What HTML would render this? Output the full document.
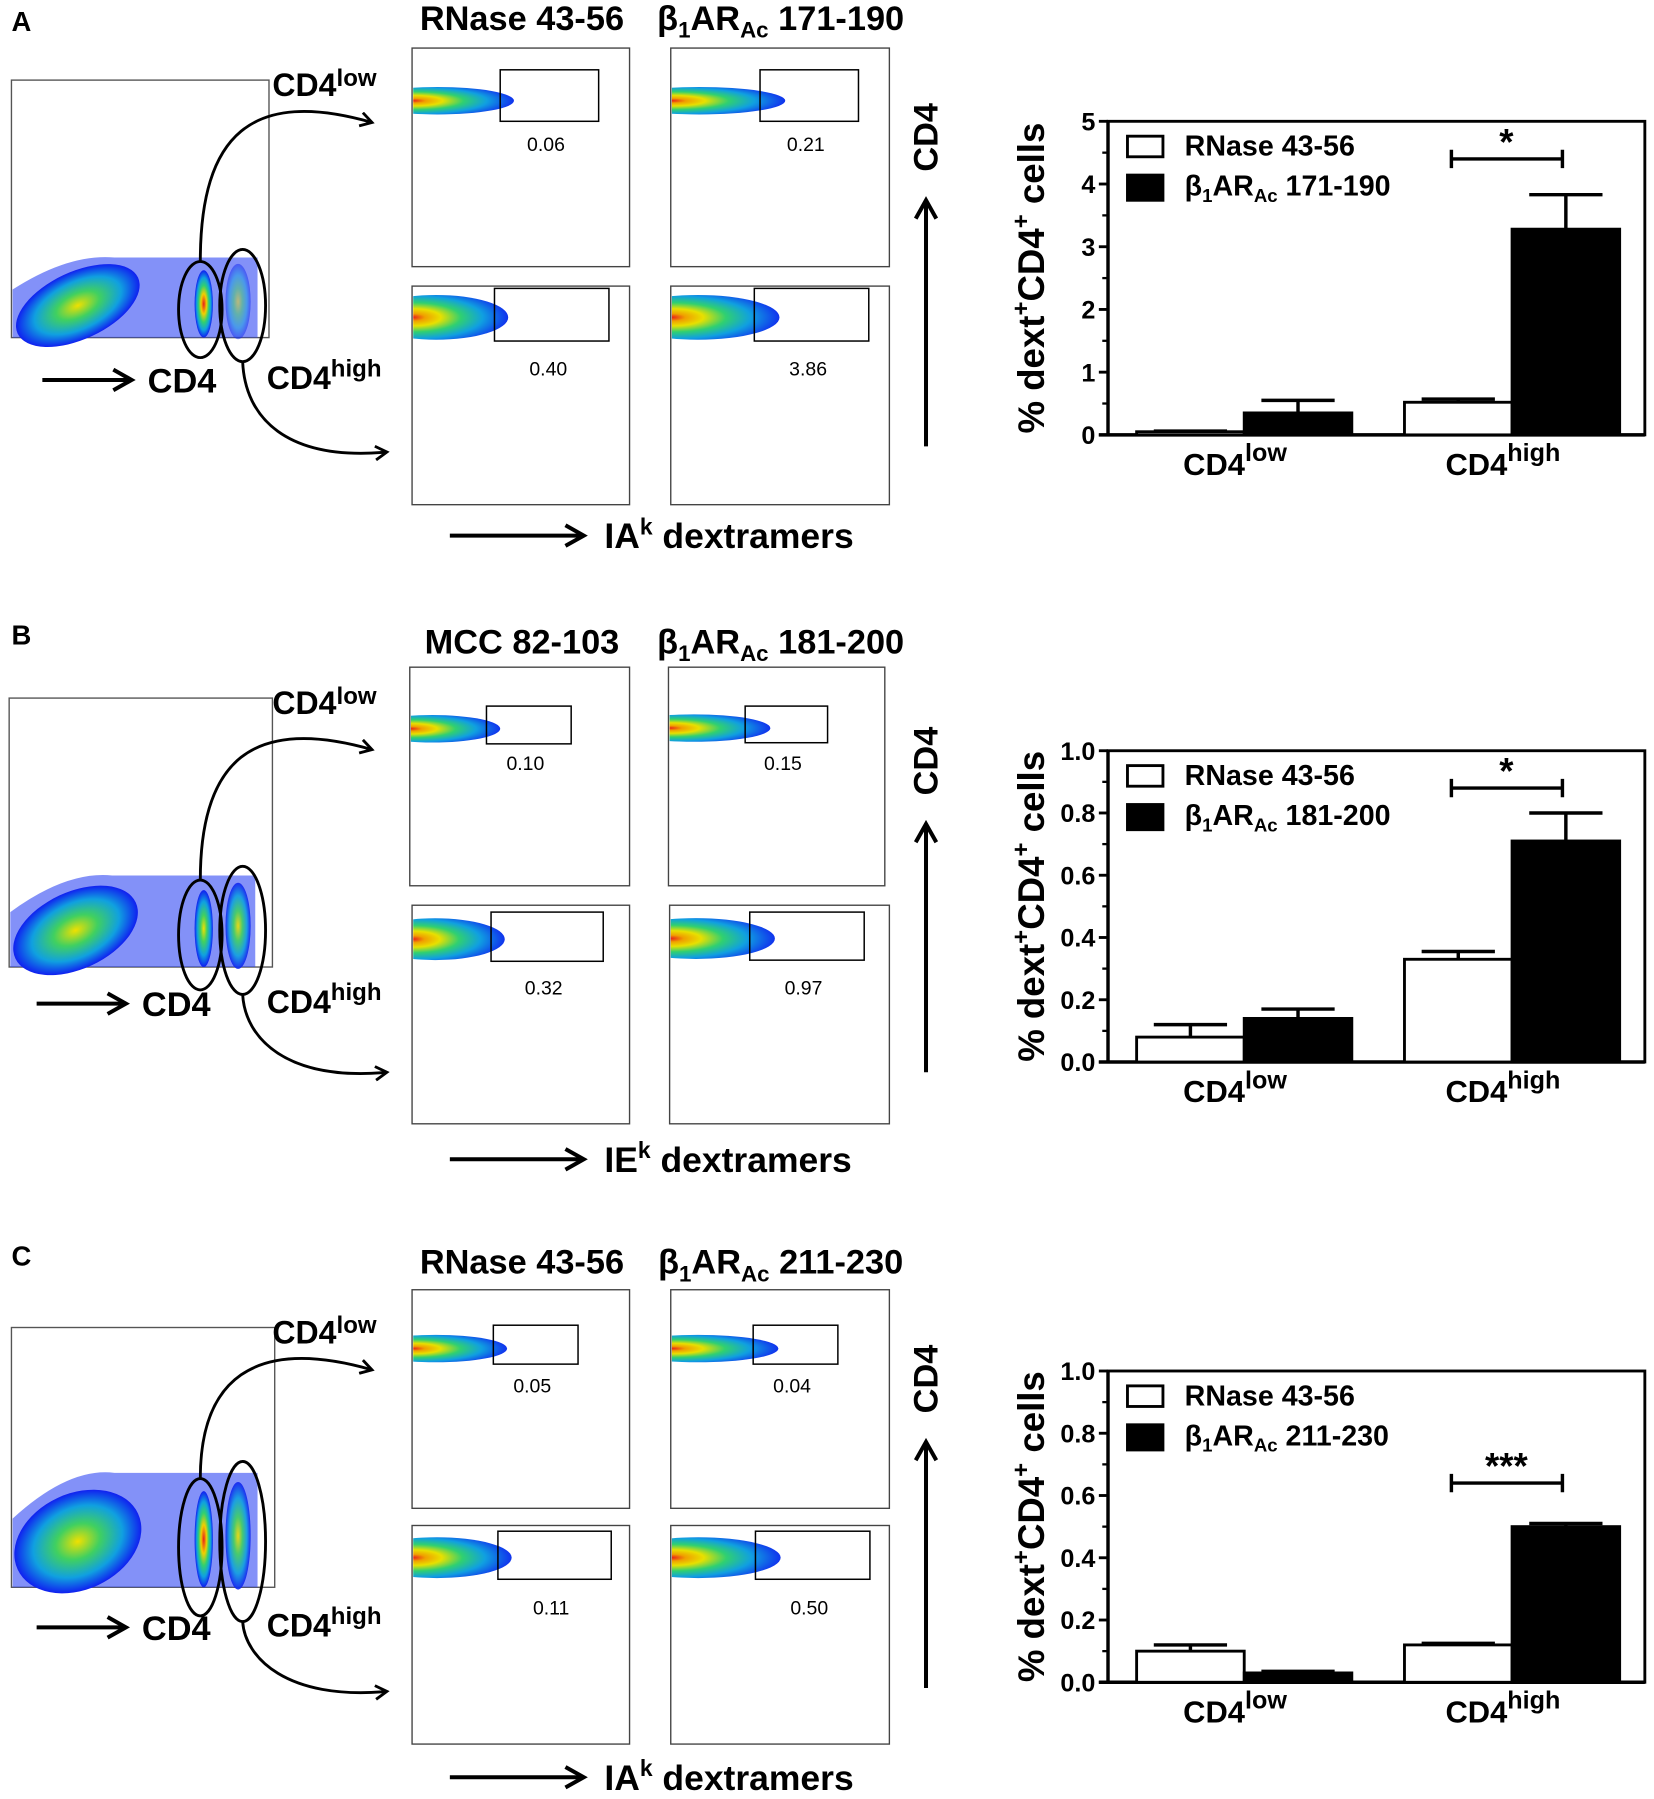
<!DOCTYPE html>
<html><head><meta charset="utf-8"><style>
html,body{margin:0;padding:0;background:#fff;}
svg{display:block;font-family:"Liberation Sans",sans-serif;}
</style></head><body>
<svg id="fig" width="1654" height="1799" viewBox="0 0 1445 1572" preserveAspectRatio="none" xmlns="http://www.w3.org/2000/svg">
<defs id="defs">
<radialGradient id="heatL" cx="35%" cy="50%" r="68%" fx="34%" fy="50%">
<stop offset="0" stop-color="#e8201a"/><stop offset="0.12" stop-color="#f0a000"/><stop offset="0.28" stop-color="#e8e000"/><stop offset="0.48" stop-color="#30d070"/><stop offset="0.7" stop-color="#10a0e0"/><stop offset="1" stop-color="#1020f0"/>
</radialGradient>
<radialGradient id="heat" cx="50%" cy="50%" r="50%">
<stop offset="0" stop-color="#e8201a"/><stop offset="0.3" stop-color="#f0d000"/><stop offset="0.55" stop-color="#30d070"/><stop offset="0.78" stop-color="#10a0e0"/><stop offset="1" stop-color="#1020f0"/>
</radialGradient>
<radialGradient id="heatSoft" cx="50%" cy="50%" r="50%">
<stop offset="0" stop-color="#f0e000"/><stop offset="0.35" stop-color="#40d060"/><stop offset="0.7" stop-color="#10a0e0"/><stop offset="1" stop-color="#1020f0"/>
</radialGradient>
<marker id="ah" markerWidth="14" markerHeight="14" refX="11" refY="7" orient="auto" markerUnits="userSpaceOnUse"><path d="M1,1 L11,7 L1,13" fill="none" stroke="#000" stroke-width="2.5"/></marker>
<marker id="ahb" markerWidth="22" markerHeight="22" refX="18" refY="11" orient="auto" markerUnits="userSpaceOnUse"><path d="M2,2 L18,11 L2,20" fill="none" stroke="#000" stroke-width="3.5"/></marker>
</defs>
</svg>
<script>
// ---- bar chart data ----
const categories = ['CD4low', 'CD4high'];
const peptidesA = ['RNase 43-56', '171-190'];
const peptidesB = ['RNase 43-56', '181-200'];
const peptidesC = ['RNase 43-56', '211-230'];
const controlA = [0.05, 0.52];
const controlErrA = [0.01, 0.05];
const testA = [0.35, 3.28];
const testErrA = [0.20, 0.55];
const controlB = [0.08, 0.33];
const controlErrB = [0.04, 0.025];
const testB = [0.14, 0.71];
const testErrB = [0.03, 0.09];
const controlC = [0.10, 0.12];
const controlErrC = [0.02, 0.005];
const testC = [0.03, 0.50];
const testErrC = [0.005, 0.01];
const ticksA = [0, 1, 2, 3, 4, 5];
const tickLabelsA = ['0', '1', '2', '3', '4', '5'];
const ticksBC = [0, 0.2, 0.4, 0.6, 0.8, 1.0];
const tickLabelsBC = ['0.0', '0.2', '0.4', '0.6', '0.8', '1.0'];
const sigA = [4.4, '*'];
const sigB = [0.88, '*'];
const sigC = [0.64, '***'];
// ---- flow numbers ----
const gateValsA = ['0.06', '0.21', '0.40', '3.86'];
const gateValsB = ['0.10', '0.15', '0.32', '0.97'];
const gateValsC = ['0.05', '0.04', '0.11', '0.50'];

const NS = 'http://www.w3.org/2000/svg';
const svg = document.getElementById('fig');
const defs = document.getElementById('defs');
let clipN = 0;
function E(tag, attrs, parent, txt) {
  const el = document.createElementNS(NS, tag);
  for (const k in attrs) el.setAttribute(k, attrs[k]);
  if (txt !== undefined) el.textContent = txt;
  (parent || svg).appendChild(el);
  return el;
}

function betaLabel(g, x, y, num, size, anchorX) {
  const t = E('text', {x: x, y: y, 'font-size': size, 'font-weight': 'bold', 'text-anchor': anchorX || 'start'}, g);
  
  
  E('tspan', {}, t, 'β');
  E('tspan', {dy: size * 0.22, 'font-size': size * 0.65}, t, '1');
  E('tspan', {dy: -size * 0.22}, t, 'AR');
  E('tspan', {dy: size * 0.22, 'font-size': size * 0.65}, t, 'Ac');
  E('tspan', {dy: -size * 0.22}, t, ' ' + num);
  return t;
}

function barChart(cfg) {
  const g = E('g', {}, svg);
  
  
  const x0 = 968, x1 = 1437, top = cfg.top, bot = cfg.bot;
  const ymax = cfg.ticks[cfg.ticks.length - 1];
  const Y = v => bot - (v / ymax) * (bot - top);
  const groupCenters = [1087, 1321];
  const bw = 94;
  const X = (gi, si) => groupCenters[gi] + (si === 0 ? -bw : 0);
  const fr = E('rect', {x: x0, y: top, width: x1 - x0, height: bot - top, fill: 'none', stroke: '#000', 'stroke-width': 2.5}, g);
  
  
  const yl = E('line', {x1: x0, y1: top, x2: x0, y2: bot, stroke: '#000', 'stroke-width': 3}, g);
  
  
  const xl = E('line', {x1: x0 - 8, y1: bot, x2: x1, y2: bot, stroke: '#000', 'stroke-width': 3}, g);
  
  
  cfg.ticks.forEach((t, i) => {
    const tk = E('line', {x1: x0 - 8, y1: Y(t), x2: x0, y2: Y(t), stroke: '#000', 'stroke-width': 2.5}, g);
    
    
    if (i < cfg.ticks.length - 1) {
      const mt = (t + cfg.ticks[i + 1]) / 2;
      const mk = E('line', {x1: x0 - 5, y1: Y(mt), x2: x0, y2: Y(mt), stroke: '#000', 'stroke-width': 2}, g);
      
      
    }
    const lb = E('text', {x: x0 - 11, y: Y(t) + 8, 'font-size': 22, 'font-weight': 'bold', 'text-anchor': 'end'}, g, cfg.tickLabels[i]);
    
    
  });
  const series = [[cfg.ctrl, cfg.ctrlErr, '#fff'], [cfg.test, cfg.testErr, '#000']];
  series.forEach((s, si) => {
    s[0].forEach((v, gi) => {
      const bx = X(gi, si);
      const eb = E('path', {d: `M${bx + bw / 2},${Y(v)} V${Y(v + s[1][gi])} M${bx + bw / 2 - 32},${Y(v + s[1][gi])} H${bx + bw / 2 + 32}`, stroke: '#000', 'stroke-width': 3, fill: 'none'}, g);
      
      
      const r = E('rect', {x: bx, y: Y(v), width: bw, height: bot - Y(v), fill: s[2], stroke: '#000', 'stroke-width': 2.5}, g);
      
      
    });
  });
  const sy = Y(cfg.sig[0]);
  const br = E('path', {d: `M1268,${sy} H1365 M1268,${sy - 8} V${sy + 8} M1365,${sy - 8} V${sy + 8}`, stroke: '#000', 'stroke-width': 3, fill: 'none'}, g);
  
  
  const st = E('text', {x: 1316, y: sy - 4, 'font-size': 32, 'font-weight': 'bold', 'text-anchor': 'middle'}, g, cfg.sig[1]);
  
  
  const l1 = E('rect', {x: 985, y: top + 13, width: 31, height: 18, fill: '#fff', stroke: '#000', 'stroke-width': 2.5}, g);
  
  
  const lt1 = E('text', {x: 1035, y: top + 30, 'font-size': 25, 'font-weight': 'bold'}, g, cfg.peptides[0]);
  
  
  const l2 = E('rect', {x: 985, y: top + 47, width: 31, height: 22, fill: '#000', stroke: '#000', 'stroke-width': 2.5}, g);
  
  
  betaLabel(g, 1035, top + 65, cfg.peptides[1], 25);
  categories.forEach((c, gi) => {
    const t = E('text', {x: groupCenters[gi] - 8, y: bot + 35, 'font-size': 27, 'font-weight': 'bold', 'text-anchor': 'middle'}, g);
    
    
    E('tspan', {}, t, 'CD4');
    E('tspan', {dy: -12, 'font-size': 22}, t, gi ? 'high' : 'low');
  });
  const cy = (top + bot) / 2;
  const yt = E('text', {x: 0, y: 0, transform: `translate(912,${cy}) rotate(-90)`, 'font-size': 32, 'font-weight': 'bold', 'text-anchor': 'middle'}, g);
  
  
  E('tspan', {}, yt, '% dext');
  E('tspan', {dy: -13, 'font-size': 21}, yt, '+');
  E('tspan', {dy: 13}, yt, 'CD4');
  E('tspan', {dy: -13, 'font-size': 21}, yt, '+');
  E('tspan', {dy: 13}, yt, ' cells');
}

function flowPanel(p) {
  const g = E('g', {}, svg);
  
  
  const L = E('text', {x: 10, y: p.letterY, 'font-size': 24, 'font-weight': 'bold'}, g, p.letter);
  
  
  const lb = p.left;
  const bx = E('rect', {x: lb[0], y: lb[1], width: lb[2] - lb[0], height: lb[3] - lb[1], fill: '#fff', stroke: '#555', 'stroke-width': 1.2}, g);
  
  
  const bot = lb[3], h = p.popH;
  const cloud = E('path', {d: `M${lb[0] + 1},${bot} V${bot - h * 0.6} Q${lb[0] + 50},${bot - h * 1.05} ${lb[0] + 90},${bot - h} L${lb[0] + 215},${bot - h} V${bot} Z`, fill: '#3048f4', opacity: 0.6}, g);
  
  
  const main = E('ellipse', {cx: lb[0] + 58, cy: bot - h * 0.4, rx: 58, ry: h * 0.42, fill: 'url(#heatSoft)', transform: `rotate(-25 ${lb[0] + 58} ${bot - h * 0.4})`}, g);
  
  
  const c1 = E('ellipse', {cx: 178, cy: bot - h * 0.42, rx: 8, ry: h * 0.42, fill: p.lowHot ? 'url(#heat)' : 'url(#heatSoft)'}, g);
  
  
  const c2 = E('ellipse', {cx: 208, cy: bot - h * 0.45, rx: 11, ry: h * 0.47, fill: 'url(#heatSoft)', opacity: p.highOp}, g);
  
  
  const e1 = E('ellipse', {cx: 175, cy: bot - h * 0.35, rx: 19, ry: h * 0.6, fill: 'none', stroke: '#000', 'stroke-width': 2.5}, g);
  
  
  const e2 = E('ellipse', {cx: 212, cy: bot - h * 0.4, rx: 20, ry: h * 0.7, fill: 'none', stroke: '#000', 'stroke-width': 2.5}, g);
  
  
  const yTopE = bot - h * 0.35 - h * 0.6, yBotE = bot - h * 0.4 + h * 0.7;
  const ey1 = p.arrowEnds[0], ey2 = p.arrowEnds[1];
  const a1 = E('path', {d: `M175,${yTopE} C175,${ey1 + 10} 220,${ey1 - 30} 325,${ey1}`, fill: 'none', stroke: '#000', 'stroke-width': 2.5, 'marker-end': 'url(#ah)'}, g);
  
  
  const a2 = E('path', {d: `M212,${yBotE} C214,${ey2 - 30} 250,${ey2 + 8} 338,${ey2}`, fill: 'none', stroke: '#000', 'stroke-width': 2.5, 'marker-end': 'url(#ah)'}, g);
  
  
  const t1 = E('text', {x: 238, y: lb[1] + 14, 'font-size': 28, 'font-weight': 'bold'}, g);
  
  
  E('tspan', {}, t1, 'CD4'); E('tspan', {dy: -9, 'font-size': 21}, t1, 'low');
  const t2 = E('text', {x: 233, y: p.highY, 'font-size': 28, 'font-weight': 'bold'}, g);
  
  
  E('tspan', {}, t2, 'CD4'); E('tspan', {dy: -11, 'font-size': 21}, t2, 'high');
  const ax = E('line', {x1: p.cdArrow[0], y1: p.highY - 8, x2: p.cdArrow[1], y2: p.highY - 8, stroke: '#000', 'stroke-width': 3.5, 'marker-end': 'url(#ahb)'}, g);
  
  
  const at = E('text', {x: p.cdArrow[1] + 14, y: p.highY + 3, 'font-size': 30, 'font-weight': 'bold'}, g, 'CD4');
  
  
  const tt = E('text', {x: 456, y: p.titleY, 'font-size': 30, 'font-weight': 'bold', 'text-anchor': 'middle'}, g, p.title1);
  
  
  betaLabel(g, 682, p.titleY, p.title2, 30, 'middle');
  p.boxes.forEach((b, i) => {
    const r = E('rect', {x: b[0], y: b[1], width: b[2] - b[0], height: 191, fill: '#fff', stroke: '#444', 'stroke-width': 1.2}, g);
    
    
    const gt = b[3];
    const isTop = i < 2;
    const ph = isTop ? 24 : gt[3] * 0.85;
    const pc = gt[1] + (isTop ? gt[3] * 0.6 : gt[3] * 0.55);
    const pw = gt[0] - b[0] + (i % 2 ? 22 : 12);
    const cid = 'clip' + (clipN++);
    const cp = E('clipPath', {id: cid}, defs);
    E('rect', {x: b[0] + 1, y: b[1], width: b[2] - b[0], height: 191}, cp);
    const pop = E('ellipse', {cx: b[0] + pw * 0.25, cy: pc, rx: pw * 0.75, ry: ph / 2, fill: 'url(#heatL)', 'clip-path': `url(#${cid})`}, g);
    
    
    const gr = E('rect', {x: gt[0], y: gt[1], width: gt[2], height: gt[3], fill: 'none', stroke: '#000', 'stroke-width': 1.3}, g);
    
    
    const nv = E('text', {x: gt[0] + gt[2] / 2 - 3, y: b[1] + (isTop ? 90 : 78), 'font-size': 17, 'text-anchor': 'middle'}, g, p.vals[i]);
    
    
  });
  const va = E('line', {x1: 809, y1: p.vArrow[0], x2: 809, y2: p.vArrow[1], stroke: '#000', 'stroke-width': 3.5, 'marker-end': 'url(#ahb)'}, g);
  
  
  const vt = E('text', {x: 0, y: 0, transform: `translate(819,${p.vArrow[1] - 55}) rotate(-90)`, 'font-size': 30, 'font-weight': 'bold', 'text-anchor': 'middle'}, g, 'CD4');
  
  
  const ha = E('line', {x1: 393, y1: p.hArrowY, x2: 510, y2: p.hArrowY, stroke: '#000', 'stroke-width': 3.5, 'marker-end': 'url(#ahb)'}, g);
  
  
  const ht = E('text', {x: 528, y: p.hArrowY + 11, 'font-size': 31, 'font-weight': 'bold'}, g);
  
  
  E('tspan', {}, ht, p.dext); E('tspan', {dy: -12, 'font-size': 20}, ht, 'k'); E('tspan', {dy: 12}, ht, ' dextramers');
}

flowPanel({name: 'panel-a-flow', letter: 'A', letterY: 27, left: [10, 70, 235, 295], popH: 70, lowHot: true, highOp: 0.5, highY: 340,
  arrowEnds: [107, 395], cdArrow: [37, 115], title1: 'RNase 43-56', title2: '171-190', titleY: 26, vals: gateValsA,
  boxes: [[360, 42, 550, [437, 61, 86, 45]], [586, 42, 777, [664, 61, 86, 45]], [360, 250, 550, [432, 252, 100, 46]], [586, 250, 777, [659, 252, 100, 46]]],
  vArrow: [390, 175], hArrowY: 468, dext: 'IA'});
flowPanel({name: 'panel-b-flow', letter: 'B', letterY: 563, left: [8, 610, 238, 845], popH: 80, lowHot: false, highOp: 0.9, highY: 885,
  arrowEnds: [655, 937], cdArrow: [32, 110], title1: 'MCC 82-103', title2: '181-200', titleY: 571, vals: gateValsB,
  boxes: [[358, 583, 550, [425, 617, 74, 33]], [584, 583, 773, [651, 617, 72, 32]], [360, 791, 550, [429, 797, 98, 43]], [585, 791, 777, [655, 797, 100, 42]]],
  vArrow: [937, 720], hArrowY: 1013, dext: 'IE'});
flowPanel({name: 'panel-c-flow', letter: 'C', letterY: 1106, left: [10, 1160, 240, 1387], popH: 100, lowHot: true, highOp: 0.9, highY: 1430,
  arrowEnds: [1197, 1478], cdArrow: [32, 110], title1: 'RNase 43-56', title2: '211-230', titleY: 1113, vals: gateValsC,
  boxes: [[360, 1127, 550, [431, 1158, 74, 34]], [586, 1127, 777, [658, 1158, 74, 34]], [360, 1333, 550, [435, 1338, 99, 42]], [586, 1333, 777, [660, 1338, 100, 42]]],
  vArrow: [1475, 1260], hArrowY: 1553, dext: 'IA'});

barChart({name: 'bar-chart-a', top: 106, bot: 380, ticks: ticksA, tickLabels: tickLabelsA, ctrl: controlA, ctrlErr: controlErrA, test: testA, testErr: testErrA, sig: sigA, peptides: peptidesA});
barChart({name: 'bar-chart-b', top: 656, bot: 928, ticks: ticksBC, tickLabels: tickLabelsBC, ctrl: controlB, ctrlErr: controlErrB, test: testB, testErr: testErrB, sig: sigB, peptides: peptidesB});
barChart({name: 'bar-chart-c', top: 1198, bot: 1470, ticks: ticksBC, tickLabels: tickLabelsBC, ctrl: controlC, ctrlErr: controlErrC, test: testC, testErr: testErrC, sig: sigC, peptides: peptidesC});
</script>
</body></html>
